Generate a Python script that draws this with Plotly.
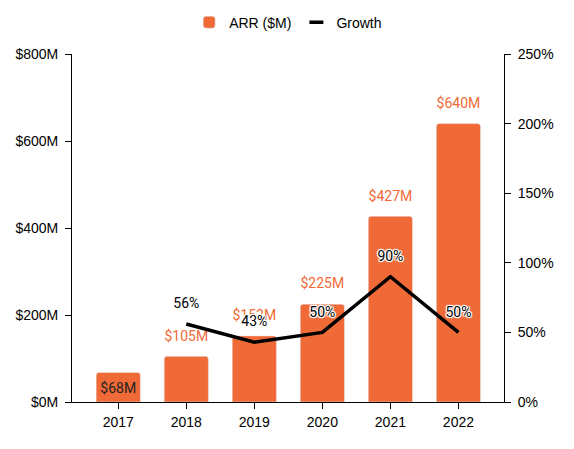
import plotly.graph_objects as go

years = ["2017", "2018", "2019", "2020", "2021", "2022"]
arr = [68, 105, 152, 225, 427, 640]
arr_labels = ["$68M", "$105M", "$152M", "$225M", "$427M", "$640M"]
growth_years = ["2018", "2019", "2020", "2021", "2022"]
growth = [56, 43, 50, 90, 50]
growth_labels = ["56%", "43%", "50%", "90%", "50%"]
y_ticks = [0, 200, 400, 600, 800]
y_tick_labels = ["$0M", "$200M", "$400M", "$600M", "$800M"]
y2_ticks = [0, 50, 100, 150, 200, 250]
y2_tick_labels = ["0%", "50%", "100%", "150%", "200%", "250%"]

ORANGE = "#f06a37"
HALO = ("1px 0px 0px white, -1px 0px 0px white, 0px 1px 0px white, 0px -1px 0px white, "
        "1px 1px 1px white, -1px -1px 1px white, 1px -1px 1px white, -1px 1px 1px white")
LABEL_FONT = "Roboto, Arial, sans-serif"

fig = go.Figure()
fig.add_trace(go.Bar(
    x=years, y=arr, name="ARR ($M)", marker=dict(color=ORANGE, cornerradius=3),
    width=0.65, yaxis="y",
))
fig.add_trace(go.Scatter(
    x=growth_years, y=growth, name="Growth", mode="lines", showlegend=False,
    line=dict(color="black", width=3.5), yaxis="y2",
))
fig.add_trace(go.Scatter(
    x=[None], y=[None], name="Growth", mode="markers", yaxis="y2",
    marker=dict(symbol="line-ew", size=10, line=dict(color="black", width=3.5)),
))

# bar value labels (invisible markers set the label offset)
n = len(years)
bar_pos = ["bottom center"] + ["top center"] * (n - 1)
bar_col = ["#222222"] + [ORANGE] * (n - 1)
bar_msize = [15] + [18] * (n - 1)
fig.add_trace(go.Scatter(
    x=years, y=arr, text=arr_labels, mode="markers+text", yaxis="y",
    showlegend=False, hoverinfo="skip", textposition=bar_pos,
    marker=dict(size=bar_msize, color="rgba(0,0,0,0)", line=dict(width=0)),
    textfont=dict(family=LABEL_FONT, size=14, color=bar_col,
                  shadow=["none"] + [HALO] * (n - 1)),
))
fig.add_trace(go.Scatter(
    x=growth_years, y=growth, text=growth_labels, mode="markers+text", yaxis="y2",
    showlegend=False, hoverinfo="skip", textposition="top center",
    marker=dict(size=18, color="rgba(0,0,0,0)", line=dict(width=0)),
    textfont=dict(family=LABEL_FONT, size=14, color="black", shadow=HALO),
))

axis_font = dict(family="Liberation Sans, Arial, sans-serif", size=14, color="black")
fig.update_layout(
    width=566, height=441,
    margin=dict(l=64, r=70, t=46, b=47, autoexpand=False),
    paper_bgcolor="white", plot_bgcolor="white",
    font=axis_font,
    showlegend=True,
    legend=dict(orientation="h", x=0.495, xanchor="center", xref="container",
                y=0.967, yanchor="middle", yref="container",
                font=dict(family="Liberation Sans, Arial, sans-serif", size=14, color="black")),
    xaxis=dict(range=[-0.68, 5.67], showline=True, linecolor="black", linewidth=1,
               ticks="outside", ticklen=6, tickcolor="black", showgrid=False,
               tickfont=axis_font, ticklabelstandoff=1),
    yaxis=dict(range=[0, 800], tickvals=y_ticks, ticktext=y_tick_labels,
               showline=True, linecolor="black", linewidth=1, ticks="outside",
               ticklen=6, tickcolor="black", showgrid=False, zeroline=False,
               tickfont=axis_font, ticklabelstandoff=4),
    yaxis2=dict(range=[0, 250], tickvals=y2_ticks, ticktext=y2_tick_labels,
                overlaying="y", side="right", showline=True, linecolor="black",
                linewidth=1, ticks="outside", ticklen=6, tickcolor="black",
                showgrid=False, zeroline=False, tickfont=axis_font,
                ticklabelstandoff=4),
)

fig.write_html("out.html")
